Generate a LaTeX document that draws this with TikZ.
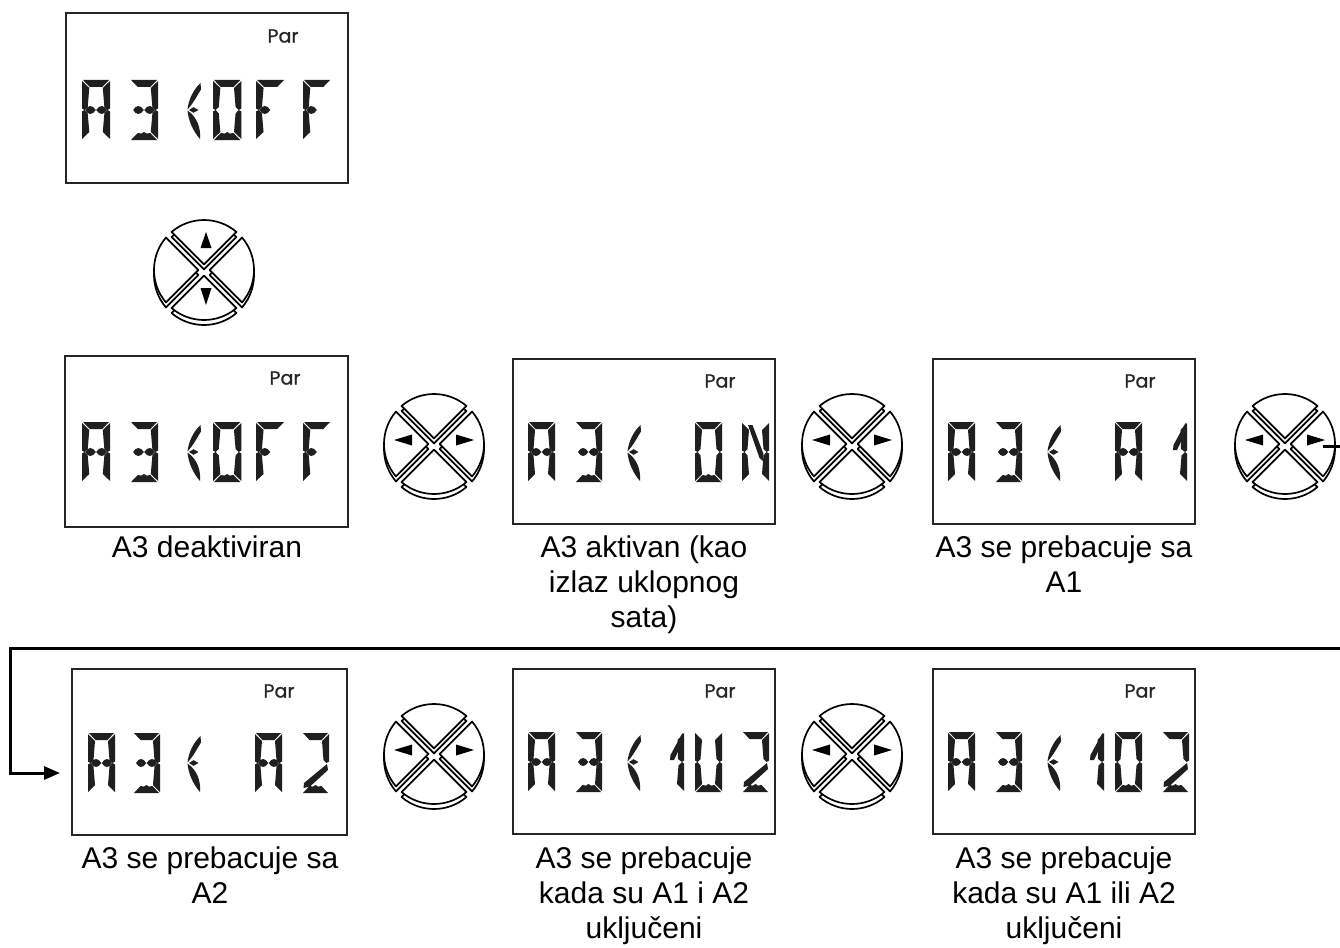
\documentclass[tikz,border=0pt]{standalone}
\usepackage{fontspec}
\setmainfont{Liberation Sans}
\newfontfamily\parfont[FakeBold=1]{Poppins}
\usetikzlibrary{arrows.meta}

\newcommand\lcdsa{\fill[lcd] (1,0)--(26,0)--(19.5,7)--(7.5,7)--cycle;}
\newcommand\lcdsb{\fill[lcd] (27,1)--(20,8)--(21.5,27)--(24.5,30)--(27,28.5)--cycle;}
\newcommand\lcdsc{\fill[lcd] (27,31.5)--(24.5,30)--(21.5,33.5)--(20,52)--(27,59)--cycle;}
\newcommand\lcdsd{\fill[lcd] (1,60)--(26,60)--(19.5,53)--(16,53.6)--(13.5,52)--(11,53.6)--(7.5,53)--cycle;}
\newcommand\lcdse{\fill[lcd] (0,31.5)--(2.5,30)--(5.5,33.5)--(7,52)--(0,59)--cycle;}
\newcommand\lcdsf{\fill[lcd] (0,1)--(7,8)--(5.5,27)--(2.5,30)--(0,28.5)--cycle;}
\newcommand\lcdsgl{\fill[lcd] (3,30) .. controls (6,24.7) and (10,24.7) .. (13.3,30) .. controls (10,35.3) and (6,35.3) .. (3,30) -- cycle;}
\newcommand\lcdsgr{\fill[lcd] (13.7,30) .. controls (17,24.7) and (21,24.7) .. (24,30) .. controls (21,35.3) and (17,35.3) .. (13.7,30) -- cycle;}

\tikzset{
  lcd/.style={fill=black!88},
  lcdbox/.style={draw=black!85, line width=2pt, fill=white, inner sep=0pt, outer sep=0pt},
  keyface/.style={draw=black, line width=1.7pt, fill=white, line join=round},
  conn/.style={draw=black, line width=3pt, -{Triangle[length=16pt,width=13pt]}},
  lbl/.style={font=\fontsize{30}{35}\selectfont, align=center, anchor=north, inner sep=0pt},
  partext/.style={font=\parfont\fontsize{19}{19}\selectfont, text=black!85, inner sep=0pt},
  glyphA/.pic={\lcdsa\lcdsb\lcdsc\lcdse\lcdsf\lcdsgl\lcdsgr},
  glyphThree/.pic={\lcdsa\lcdsb\lcdsc\lcdsd\lcdsgl\lcdsgr},
  glyphO/.pic={\lcdsa\lcdsb\lcdsc\lcdsd\lcdse\lcdsf},
  glyphF/.pic={\lcdsa\lcdse\lcdsf\lcdsgl},
  glyphU/.pic={\lcdsb\lcdsc\lcdsd\lcdse\lcdsf},
  glyphN/.pic={\lcdsb\lcdsc\lcdse\lcdsf \fill[lcd] (6,3)--(10.5,3)--(21.5,32)--(21,39)--(17.5,36)--cycle;},
  glyphZ/.pic={\lcdsa\lcdsb \fill[lcd] (25,31)--(26,37)--(8,53.5)--(1.5,55)--(2,50)--cycle; \lcdsd},
  glyphOne/.pic={
    \fill[lcd] (14,1)--(14,28.5)--(12,30)--(8,27)--(7.5,8)--cycle;
    \fill[lcd] (12.5,1)--(14,7)--(4,28)--(0,28)--(0.5,23)--cycle;
    \fill[lcd] (14,31.5)--(12,30)--(8.5,33.5)--(7,52)--(14,59)--cycle;},
  glyphParen/.pic={
    \fill[lcd] (12.5,3) .. controls (5,10) and (0.5,20) .. (-0.5,29.5) .. controls (5.5,23) and (9.5,15) .. (13,9.5) -- cycle;
    \fill[lcd] (-0.5,30.5) .. controls (0.5,41) and (5,51) .. (12,59) .. controls (13,48) and (9,37) .. (-0.5,30.5) -- cycle;
    \fill[lcd] (1,30) -- (5.5,27.2) -- (10.5,30) -- (5.5,32.8) -- cycle;},
  btnkeys/.pic={
    \begin{scope}[yscale=-1]
      \begin{scope}[shift={(0,-5)}]
        \foreach \p in {270,180,0,90}
          \path[keyface] (\p:5.6) -- ({\p+40.45}:50) arc[start angle=\p+40.45, end angle=\p-40.45, radius=50] -- cycle;
      \end{scope}
      \foreach \p in {270,180,0,90}
        \path[keyface] (\p:5.6) -- ({\p+40.45}:50) arc[start angle=\p+40.45, end angle=\p-40.45, radius=50] -- cycle;
    \end{scope}},
  btnLR/.pic={
    \pic {btnkeys};
    \begin{scope}[yscale=-1]
      \fill (-40,4)--(-22,9.5)--(-22,-1.5)--cycle;
      \fill (40,4)--(22,9.5)--(22,-1.5)--cycle;
    \end{scope}},
  btnUD/.pic={
    \pic {btnkeys};
    \begin{scope}[yscale=-1]
      \fill (2,38)--(-3.5,22)--(7.5,22)--cycle;
      \fill (2,-35)--(-3.5,-18)--(7.5,-18)--cycle;
    \end{scope}},
}

\begin{document}
\begin{tikzpicture}[x=1pt,y=-1pt]
\useasboundingbox (0,0) rectangle (1340,947);
\fill[white] (0,0) rectangle (1340,947);

% ---- displays ----
\node[lcdbox, minimum width=282, minimum height=170] (b1) at (207,98) {};
\node[lcdbox, minimum width=283, minimum height=171] (b2) at (206.5,441.5) {};
\node[lcdbox, minimum width=262, minimum height=165] (b3) at (644,441.5) {};
\node[lcdbox, minimum width=262, minimum height=165] (b4) at (1064,441.5) {};
\node[lcdbox, minimum width=275, minimum height=166] (b5) at (209.5,752) {};
\node[lcdbox, minimum width=262, minimum height=165] (b6) at (644,751.5) {};
\node[lcdbox, minimum width=262, minimum height=165] (b7) at (1064,751.5) {};

\node[partext] (p1) at (283,36) {Par};
\node[partext] (p2) at (285,378) {Par};
\node[partext] (p3) at (720,381) {Par};
\node[partext] (p4) at (1140,381) {Par};
\node[partext] (p5) at (279,691) {Par};
\node[partext] (p6) at (720,691) {Par};
\node[partext] (p7) at (1140,691) {Par};

% box 1
\pic[xscale=1.04] at (82,80) {glyphA};
\pic[xscale=1.04] at (130,80) {glyphThree};
\pic at (188,80) {glyphParen};
\pic[xscale=1.05] at (213,80) {glyphO};
\pic[xscale=1.08] at (256,80) {glyphF};
\pic[xscale=1.04] at (303,80) {glyphF};
% box 2
\pic[xscale=1.04] at (82,422) {glyphA};
\pic[xscale=1.04] at (130,422) {glyphThree};
\pic at (188,422) {glyphParen};
\pic[xscale=1.05] at (213,422) {glyphO};
\pic[xscale=1.08] at (256,422) {glyphF};
\pic[xscale=1.04] at (303,422) {glyphF};
% box 3
\pic at (528,422) {glyphA};
\pic at (575,422) {glyphThree};
\pic at (628,422) {glyphParen};
\pic at (695,422) {glyphO};
\pic at (742,422) {glyphN};
% box 4
\pic at (948,422) {glyphA};
\pic at (995,422) {glyphThree};
\pic at (1048,422) {glyphParen};
\pic at (1115,422) {glyphA};
\pic at (1173,422) {glyphOne};
% box 5
\pic at (88,733) {glyphA};
\pic at (133,733) {glyphThree};
\pic at (188,733) {glyphParen};
\pic at (255,733) {glyphA};
\pic at (302,733) {glyphZ};
% box 6
\pic at (528,732) {glyphA};
\pic at (575,732) {glyphThree};
\pic at (628,732) {glyphParen};
\pic at (670,732) {glyphOne};
\pic at (695,732) {glyphU};
\pic at (742,732) {glyphZ};
% box 7
\pic at (948,732) {glyphA};
\pic at (995,732) {glyphThree};
\pic at (1048,732) {glyphParen};
\pic at (1090,732) {glyphOne};
\pic at (1115,732) {glyphO};
\pic at (1162,732) {glyphZ};

% ---- buttons ----
\coordinate (k0) at (204,270);
\coordinate (k1) at (434,444);
\coordinate (k2) at (852,444);
\coordinate (k3) at (1285,444);
\coordinate (k4) at (434,754);
\coordinate (k5) at (852,754);
\pic at (k0) {btnUD};
\pic at (k1) {btnLR};
\pic at (k2) {btnLR};
\pic at (k3) {btnLR};
\pic at (k4) {btnLR};
\pic at (k5) {btnLR};

% ---- labels ----
\node[lbl] (l2) at (207,536) {A3 deaktiviran};
\node[lbl] (l3) at (644,536) {A3 aktivan (kao\\izlaz uklopnog\\sata)};
\node[lbl] (l4) at (1064,536) {A3 se prebacuje sa\\A1};
\node[lbl] (l5) at (210,847) {A3 se prebacuje sa\\A2};
\node[lbl] (l6) at (644,847) {A3 se prebacuje\\kada su A1 i A2\\uključeni};
\node[lbl] (l7) at (1064,847) {A3 se prebacuje\\kada su A1 ili A2\\uključeni};

% ---- connector ----
\coordinate (cstart) at (1323,446);
\coordinate (aend) at (60,773);
\draw[conn] (cstart) -- (1343,446) -- (1343,648) -- (10,648) -- (10,773) -- (aend);
\end{tikzpicture}
\end{document}
